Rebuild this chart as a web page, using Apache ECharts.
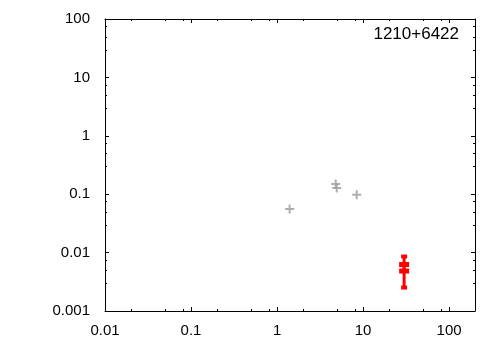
<!DOCTYPE html>
<html>
<head>
<meta charset="utf-8">
<script src="https://cdn.jsdelivr.net/npm/echarts@6/dist/echarts.min.js"></script>
<style>html,body{margin:0;padding:0;background:#fff}#c{width:500px;height:350px}</style>
</head>
<body>
<div id="c"></div>
<script>
// ---- data ----
const titleText = '1210+6422';
const xRange = [0.01, 200];
const yRange = [0.001, 100];
// gray plus points
const grayX = [1.40, 4.81, 4.94, 8.43];
const grayY = [0.0558, 0.150, 0.128, 0.098];
// red points with y error bars
const redX = [30, 30];
const redY = [0.00625, 0.00484];
const redLow = [0.00484, 0.00252];
const redHigh = [0.00857, 0.00625];
// minor tick values
const xMinorTicks = [0.02, 0.05, 0.08, 0.2, 0.5, 0.8, 2, 5, 8, 20, 50, 80];
const yMinorTicks = [0.003, 0.005, 0.0075, 0.03, 0.05, 0.075, 0.3, 0.5, 0.75, 3, 5, 7.5, 30, 50, 75];

const FONT = '"Liberation Sans", Arial, sans-serif';
function fmt(v) {
  const e = Math.round(Math.log10(v));
  return e < 0 ? Number(v).toFixed(-e) : String(Math.round(v));
}
const chart = echarts.init(document.getElementById('c'), null, {renderer: 'canvas'});

const axisCommon = {
  axisLine: {show: true, onZero: false, lineStyle: {color: '#000', width: 1}},
  axisTick: {show: true, inside: true, length: 4, lineStyle: {color: '#000'}},
  splitLine: {show: false},
  logBase: 10
};

const minorData = xMinorTicks.map(v => [v, yRange[0], 0]).concat(yMinorTicks.map(v => [xRange[0], v, 1]));

chart.setOption({
  animation: false,
  backgroundColor: '#fff',
  title: {
    text: titleText, right: 41, top: 26, padding: 0,
    textStyle: {fontFamily: FONT, fontSize: 17, fontWeight: 'normal', color: '#000', lineHeight: 17}
  },
  grid: {left: 105, right: 25, top: 19, bottom: 39},
  xAxis: [
    Object.assign({}, axisCommon, {
      type: 'log', min: xRange[0], max: xRange[1], position: 'bottom',
      axisLabel: {show: true, showMaxLabel: false, margin: 12, formatter: fmt,
        fontFamily: FONT, fontSize: 15, color: '#000'}
    }),
    Object.assign({}, axisCommon, {
      type: 'log', min: xRange[0], max: xRange[1], position: 'top',
      axisLabel: {show: false}
    })
  ],
  yAxis: [
    Object.assign({}, axisCommon, {
      type: 'log', min: yRange[0], max: yRange[1], position: 'left',
      axisLabel: {show: true, margin: 15, formatter: fmt,
        fontFamily: FONT, fontSize: 15, color: '#000'}
    }),
    Object.assign({}, axisCommon, {
      type: 'log', min: yRange[0], max: yRange[1], position: 'right',
      axisLabel: {show: false}
    })
  ],
  series: [
    {
      type: 'custom', xAxisIndex: 0, yAxisIndex: 0, silent: true, clip: false,
      data: minorData,
      renderItem: function (params, api) {
        const cs = params.coordSys;
        const p = api.coord([api.value(0), api.value(1)]);
        const kind = api.value(2);
        const L = 2;
        const style = {stroke: '#000', lineWidth: 1};
        if (kind === 0) {
          const x = Math.round(p[0]) + 0.5;
          return {type: 'group', children: [
            {type: 'line', shape: {x1: x, y1: cs.y + cs.height, x2: x, y2: cs.y + cs.height - L}, style: style},
            {type: 'line', shape: {x1: x, y1: cs.y, x2: x, y2: cs.y + L}, style: style}
          ]};
        } else {
          const y = Math.round(p[1]) + 0.5;
          return {type: 'group', children: [
            {type: 'line', shape: {x1: cs.x, y1: y, x2: cs.x + L, y2: y}, style: style},
            {type: 'line', shape: {x1: cs.x + cs.width, y1: y, x2: cs.x + cs.width - L, y2: y}, style: style}
          ]};
        }
      }
    },
    {
      type: 'scatter', xAxisIndex: 0, yAxisIndex: 0,
      data: grayX.map((x, i) => [x, grayY[i]]),
      symbol: 'path://M0,3.5H9V5.5H0Z M3.5,0H5.5V9H3.5Z',
      symbolSize: 9,
      itemStyle: {color: '#9a9a9a'}
    },
    {
      type: 'custom', xAxisIndex: 0, yAxisIndex: 0,
      data: redX.map((x, i) => [x, redY[i], redLow[i], redHigh[i]]),
      renderItem: function (params, api) {
        const x = api.value(0);
        const pc = api.coord([x, api.value(1)]);
        const pl = api.coord([x, api.value(2)]);
        const ph = api.coord([x, api.value(3)]);
        const col = '#ff0000';
        return {type: 'group', children: [
          {type: 'line', shape: {x1: pc[0], y1: pl[1], x2: pc[0], y2: ph[1]}, style: {stroke: col, lineWidth: 3}},
          {type: 'rect', shape: {x: pc[0] - 3, y: pl[1] - 2, width: 6, height: 4}, style: {fill: col}},
          {type: 'rect', shape: {x: pc[0] - 3, y: ph[1] - 2, width: 6, height: 4}, style: {fill: col}},
          {type: 'rect', shape: {x: pc[0] - 5, y: pc[1] - 2.5, width: 10, height: 5}, style: {fill: col}}
        ]};
      }
    }
  ]
});
</script>
</body>
</html>
